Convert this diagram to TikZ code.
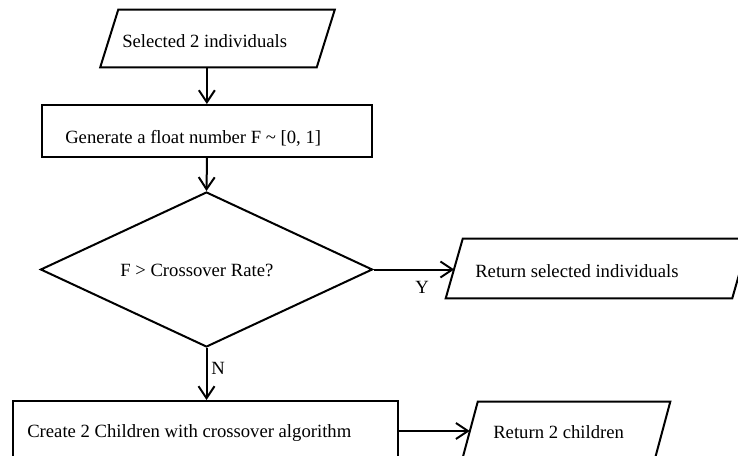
\documentclass[tikz,border=0pt]{standalone}
\usepackage{fontspec}
\setmainfont{Liberation Serif}
\usetikzlibrary{arrows.meta,shapes.geometric}

\tikzset{
  outline/.style={draw=black, line width=1.5pt, line join=miter},
  procbox/.style={outline, rectangle, inner sep=0pt},
  % io boxes: the node is the unslanted body, the outline is sheared
  iobody/.style={rectangle, inner sep=0pt},
  decbox/.style={outline, diamond, inner sep=0pt},
  txt/.style={inner sep=0pt, anchor=base west},
  flow/.style={line width=1.5pt, -{Straight Barb[length=9pt,width=12pt,line width=1.5pt]}},
}
% parallelogram outline around a body node: #1 node name, #2 half slant
\newcommand{\ioshape}[2]{%
  \draw[outline] ([xshift=-#2]#1.south west) -- ([xshift=#2]#1.north west)
    -- ([xshift=#2]#1.north east) -- ([xshift=-#2]#1.south east) -- cycle;}

\begin{document}
\begin{tikzpicture}[x=0.75pt, y=-0.75pt, font=\fontsize{14pt}{17pt}\selectfont]
  \useasboundingbox (0,0) rectangle (738,456);
  \clip (0,0) rectangle (738,456);

  % shapes of the flow chart
  \node[iobody, minimum width={216*0.75pt}, minimum height={57*0.75pt}] (sel) at (217.5,38.5) {};
  \ioshape{sel}{6.75pt}
  \node[procbox, minimum width={330*0.75pt}, minimum height={52*0.75pt}] (gen) at (207,131) {};
  \node[decbox, minimum width={332*0.75pt}, minimum height={155*0.75pt}] (dec) at (206.5,269.5) {};
  \node[iobody, minimum width={286*0.75pt}, minimum height={59*0.75pt}] (ret) at (597.5,268.5) {};
  \ioshape{ret}{6.375pt}
  \node[procbox, minimum width={385*0.75pt}, minimum height={60*0.75pt}] (cre) at (205.5,431) {};
  \node[iobody, minimum width={192*0.75pt}, minimum height={59*0.75pt}] (kids) at (566,431.5) {};
  \ioshape{kids}{6pt}

  % texts
  \node[txt] (tsel) at (122,48) {Selected 2 individuals};
  \node[txt] (tgen) at (65,143) {Generate a float number F \char"007E{} [0, 1]};
  \node[txt] (tdec) at (120,276) {F > Crossover Rate?};
  \node[txt] (tret) at (475,277) {Return selected individuals};
  \node[txt] (tcre) at (27,437) {Create 2 Children with crossover algorithm};
  \node[txt] (tkids) at (493,438) {Return 2 children};

  % connectors (the input box leaves from the middle of its sheared bottom edge)
  \coordinate (selout) at ([xshift=-8pt]sel.south);
  \draw[flow] (selout) -- (selout |- gen.north);
  \draw[flow] (gen.south) -- (dec.north);
  \draw[flow] (dec.east) -- (dec.east -| ret.west);
  \draw[flow] (dec.south) -- (dec.south |- cre.north);
  \draw[flow] (cre.east) -- (cre.east -| kids.west);

  % branch labels
  \node[txt] (yes) at (415,293) {Y};
  \node[txt] (no) at (211,374) {N};
\end{tikzpicture}
\end{document}
